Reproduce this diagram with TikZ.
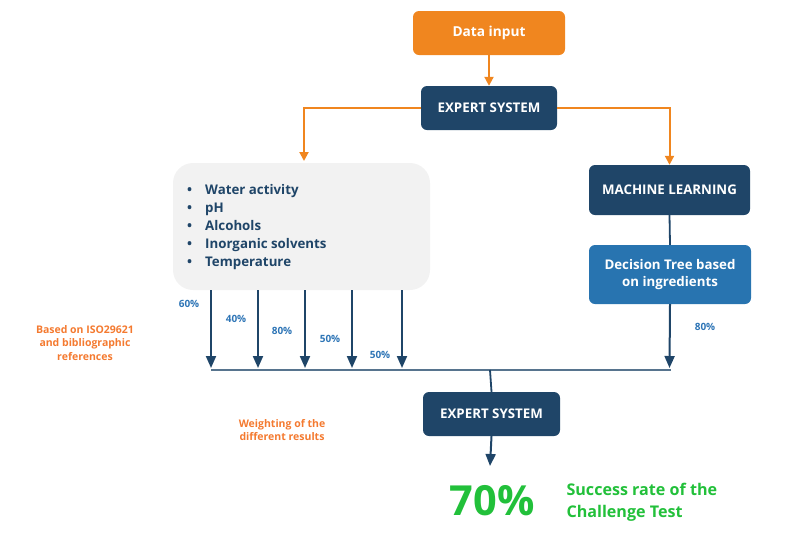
\documentclass[tikz,border=0pt]{standalone}
\usepackage{fontspec}
\setmainfont{Open Sans}
\usetikzlibrary{arrows.meta}
\definecolor{navy}{HTML}{1F4568}
\definecolor{orng}{HTML}{F0861F}
\definecolor{orngtxt}{HTML}{F47A30}
\definecolor{midblue}{HTML}{2874B0}
\definecolor{lblue}{HTML}{2E75B6}
\definecolor{grayfill}{HTML}{F2F2F2}
\definecolor{grn}{HTML}{22C03A}
\tikzset{
  box/.style={rounded corners=6pt, text=white, font=\bfseries\fontsize{13.3}{16}\selectfont, align=center, inner sep=0pt},
  navybox/.style={box, fill=navy},
  oarrow/.style={draw=orng, line width=2pt, -{Triangle[length=9pt,width=9pt]}},
  narrow/.style={draw=navy, line width=2pt, -{Triangle[length=12pt,width=10pt]}},
  nline/.style={draw=navy, line width=1.8pt},
  pct/.style={text=lblue, font=\bfseries\fontsize{10}{11}\selectfont},
  otxt/.style={text=orngtxt, font=\bfseries\fontsize{10.5}{13.5}\selectfont, align=center},
}
\begin{document}
\begin{tikzpicture}[x=1pt,y=-1pt]
\useasboundingbox (0,0) rectangle (786,542);
% boxes
\node[box, fill=orng, minimum width=152pt, minimum height=44pt, font=\bfseries\fontsize{13.7}{16}\selectfont] (data) at (489,33) {Data input};
\node[navybox, minimum width=136pt, minimum height=44pt] (es1) at (489,108) {EXPERT SYSTEM};
\node[fill=grayfill, rounded corners=20pt, minimum width=257pt, minimum height=127pt, inner sep=0pt] (gray) at (301.5,226.5) {};
\node[anchor=north west, text=navy, font=\bfseries\fontsize{13.3}{18}\selectfont, align=left, inner sep=0pt] (list) at (187,184) {%
\textbullet\hspace{13pt}Water activity\\
\textbullet\hspace{13pt}pH\\
\textbullet\hspace{13pt}Alcohols\\
\textbullet\hspace{13pt}Inorganic solvents\\
\textbullet\hspace{13pt}Temperature};
\node[navybox, minimum width=161pt, minimum height=50pt] (ml) at (669.5,190) {MACHINE LEARNING};
\node[box, fill=midblue, minimum width=162pt, minimum height=59pt, font=\bfseries\fontsize{13.3}{16.5}\selectfont] (dt) at (670,274.5) {Decision Tree based\\on ingredients};
\node[navybox, minimum width=137pt, minimum height=44pt] (es2) at (491.5,414) {EXPERT SYSTEM};
% coordinates
\coordinate (L) at (211,370);
\coordinate (R) at (671,370);
\coordinate (J) at (490,370);
\coordinate (res) at (490,466);
% orange arrows
\draw[oarrow] (data.south) -- (es1.north);
\draw[oarrow] (es1.west) -| (304,161);
\draw[oarrow] (es1.east) -| (ml.north);
% down arrows from gray box
\foreach \x in {211,258,305,352,402}{
  \draw[narrow] (\x,290) -- (\x,368);
}
\draw[nline] (ml.south) -- (dt.north);
\draw[narrow] (dt.south) -- (669.5,368);
\draw[draw=navy!75, line width=1.8pt] (L) -- (R);
\draw[nline] (J) -- (es2.north);
\draw[narrow] (es2.south) -- (res);
% percents
\node[pct] (p1) at (189,304) {60\%};
\node[pct] (p2) at (236,319) {40\%};
\node[pct] (p3) at (282,331) {80\%};
\node[pct] (p4) at (330,339) {50\%};
\node[pct] (p5) at (380,355) {50\%};
\node[pct] (p6) at (705,327) {80\%};
% orange texts
\node[otxt] (iso) at (85,343) {Based on ISO29621\\and bibliographic\\references};
\node[otxt] (wt) at (282,430) {Weighting of the\\different results};
% result
\node[text=grn, font=\bfseries\fontsize{41.5}{44}\selectfont] (big) at (492,501) {70\%};
\node[anchor=west, text=grn, font=\bfseries\fontsize{16.1}{22}\selectfont, align=left] (succ) at (563,502) {Success rate of the\\Challenge Test};
\end{tikzpicture}
\end{document}
